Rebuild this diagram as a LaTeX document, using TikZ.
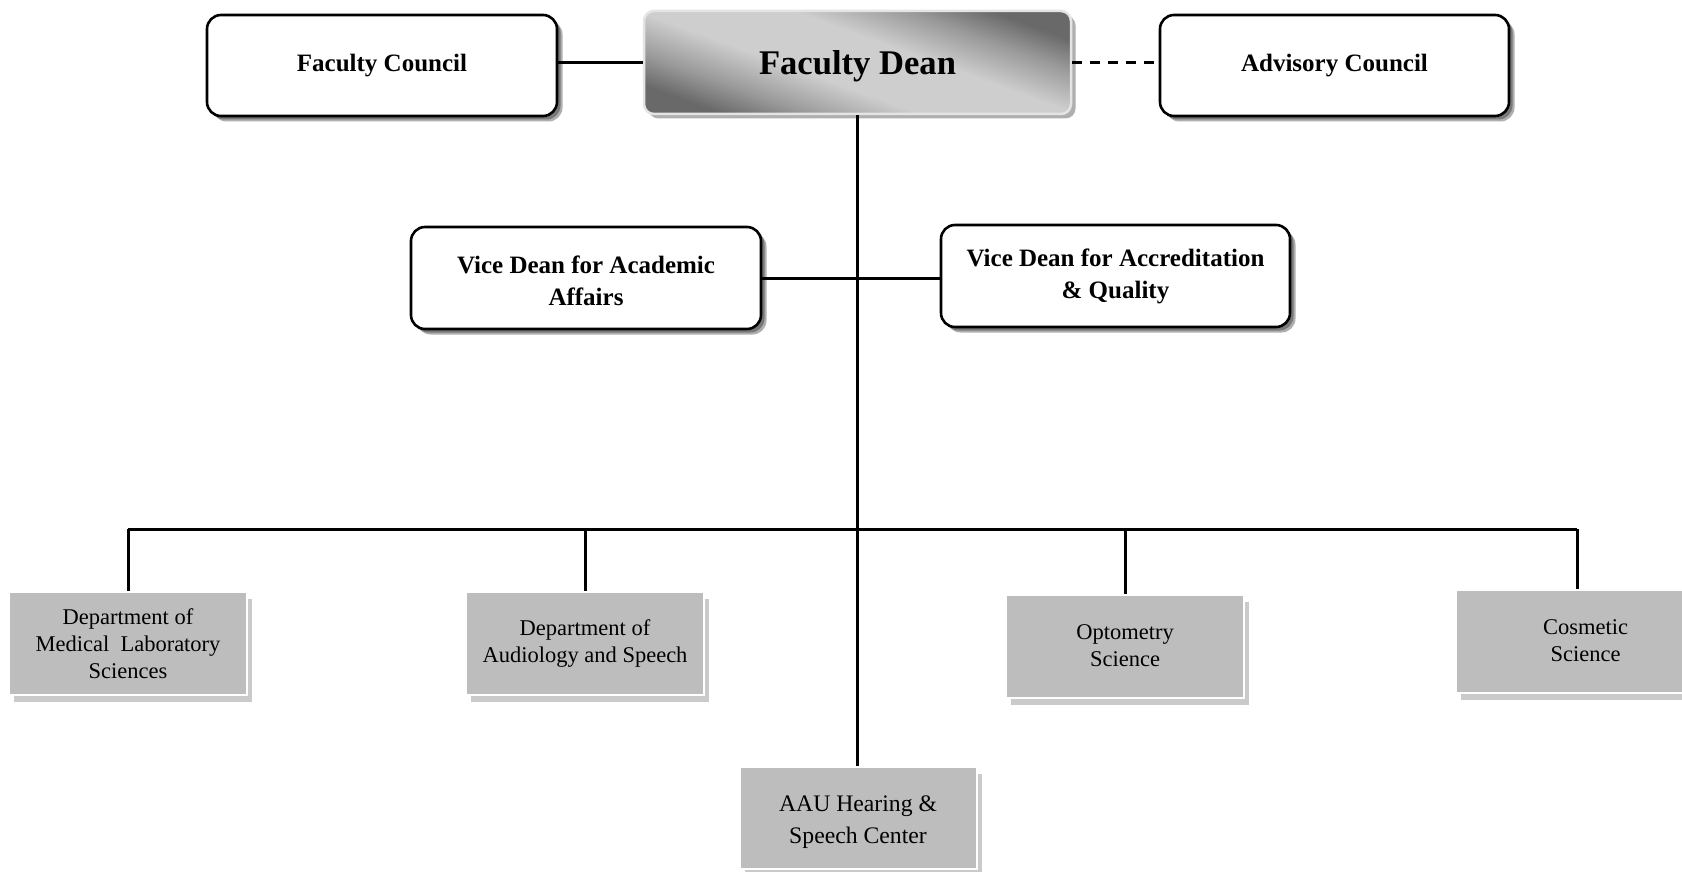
\documentclass[tikz,border=0pt]{standalone}
\usepackage{fontspec}
\setmainfont{Liberation Serif}
\usetikzlibrary{shadows}
\definecolor{deptfill}{RGB}{189,189,189}
\definecolor{deptshadow}{RGB}{202,202,202}
\definecolor{rshadow}{RGB}{120,120,120}
\definecolor{rshadowsoft}{RGB}{175,175,175}
\definecolor{dkA}{RGB}{105,105,105}
\definecolor{dkB}{RGB}{155,155,155}
\definecolor{ltA}{RGB}{206,206,206}
\definecolor{deanedge}{RGB}{228,228,228}
\pgfdeclarehorizontalshading{deanshade}{100bp}{color(0bp)=(dkA); color(25bp)=(dkA); color(33bp)=(dkB); color(43bp)=(ltA); color(57bp)=(ltA); color(67bp)=(dkB); color(75bp)=(dkA); color(100bp)=(dkA)}
\begin{document}
\begin{tikzpicture}[x=1pt,y=-1pt,
  roundbox/.style={draw=black, line width=2.6pt, fill=white, rounded corners=14pt,
    inner sep=0pt, align=center, font=\fontsize{25}{32}\selectfont\bfseries,
    drop shadow={shadow xshift=5.5pt,shadow yshift=-5.5pt,fill=rshadowsoft,opacity=1},
    drop shadow={shadow xshift=3.5pt,shadow yshift=-3.5pt,fill=rshadow,opacity=1}},
  deanbox/.style={draw=deanedge, line width=2.5pt, shading=deanshade, shading angle=70,
    rounded corners=10pt, inner sep=0pt, font=\fontsize{34.6}{40}\selectfont\bfseries,
    drop shadow={shadow xshift=4.5pt,shadow yshift=-4.5pt,fill=rshadowsoft,opacity=1}},
  deptbox/.style={draw=white, line width=2pt, fill=deptfill, inner sep=0pt, align=center,
    font=\fontsize{22.5}{26.8}\selectfont,
    drop shadow={shadow xshift=5pt,shadow yshift=-7pt,fill=deptshadow,opacity=1}},
  conn/.style={line width=3pt},
  dashconn/.style={line width=2.4pt, dash pattern=on 10pt off 8pt}
]
\clip (0,0) rectangle (1682,872);
\fill[white] (0,0) rectangle (1682,872);
% top row
\node[roundbox, minimum width=350pt, minimum height=101pt] (FC) at (382,65.5) {Faculty Council};
\node[deanbox, minimum width=427pt, minimum height=103pt, text depth=0pt] (FD) at (857.5,62.5) {Faculty Dean};
\node[roundbox, minimum width=349pt, minimum height=101pt] (AC) at (1334.5,65.5) {Advisory Council};
% vice deans
\node[roundbox, minimum width=350pt, minimum height=102pt, text height=55pt] (VDA) at (586,278) {Vice Dean for Academic\\Affairs};
\node[roundbox, minimum width=349pt, minimum height=102pt] (VDQ) at (1115.5,276) {Vice Dean for Accreditation\\\& Quality};
% departments
\node[deptbox, minimum width=238pt, minimum height=103pt] (MLS) at (128,643.5) {Department of\\Medical\ \ Laboratory\\Sciences};
\node[deptbox, minimum width=238pt, minimum height=103pt] (AUD) at (585,643.5) {Department of\\Audiology and Speech};
\node[deptbox, minimum width=238pt, minimum height=103pt] (OPT) at (1125,646) {Optometry\\Science};
\node[deptbox, minimum width=259pt, minimum height=103pt] (COS) at (1585.5,641) {Cosmetic\\Science};
\node[deptbox, minimum width=237pt, minimum height=102pt, font=\fontsize{23.7}{32}\selectfont, text height=50pt, text depth=0pt] (AAU) at (858,818) {AAU Hearing \&\\Speech Center};
% connectors
\coordinate (bus) at (0,529);
\coordinate (cosdrop) at (1577,529);
\draw[conn] (FD.west) -- (FD.west -| FC.east);
\draw[dashconn] (FD.east) -- (FD.east -| AC.west);
\draw[conn] (FD.south) -- (FD.south |- AAU.north);
\draw[conn] (VDA.east) -- (VDA.east -| VDQ.west);
\draw[conn] (MLS.north |- bus) -- (cosdrop);
\draw[conn] (MLS.north |- bus) -- (MLS.north);
\draw[conn] (AUD.north |- bus) -- (AUD.north);
\draw[conn] (OPT.north |- bus) -- (OPT.north);
\draw[conn] (cosdrop) -- (cosdrop |- COS.north);
\end{tikzpicture}
\end{document}
